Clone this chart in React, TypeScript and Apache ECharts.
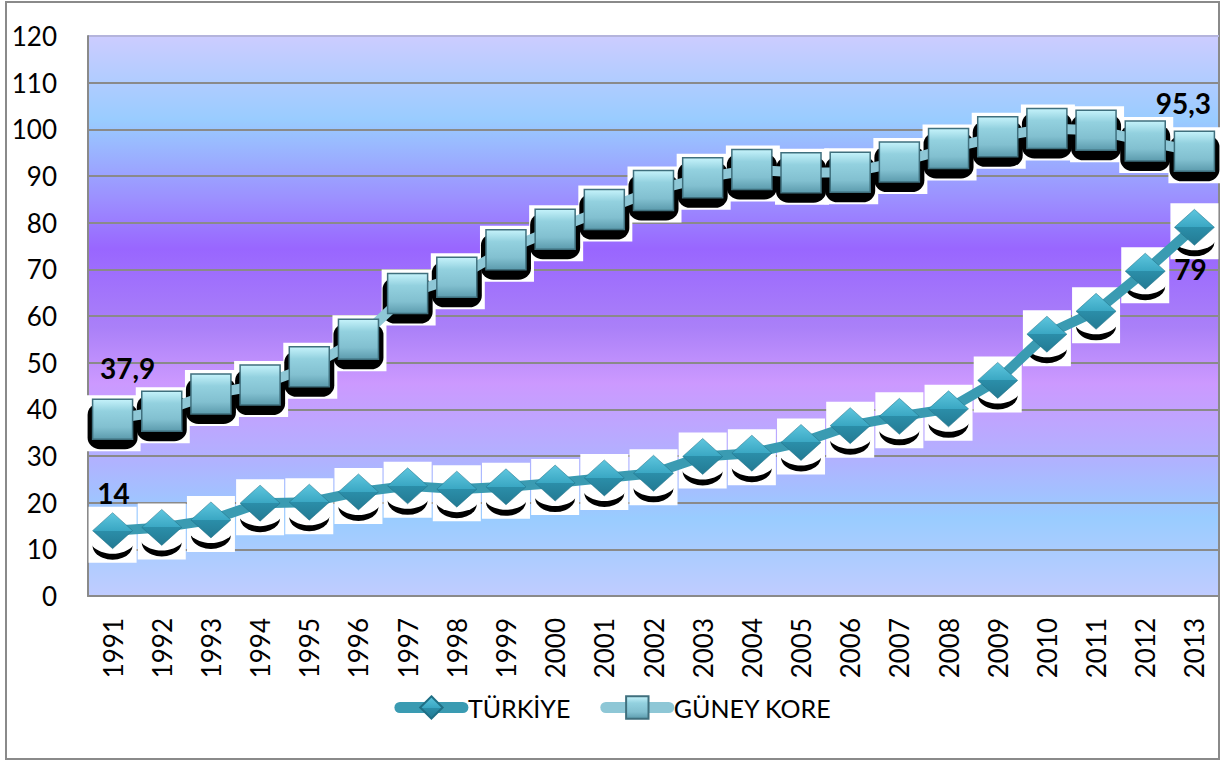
import React, { useEffect, useRef } from 'react';
import * as echarts from 'echarts';

const years = ['1991', '1992', '1993', '1994', '1995', '1996', '1997', '1998', '1999', '2000', '2001', '2002', '2003', '2004', '2005', '2006', '2007', '2008', '2009', '2010', '2011', '2012', '2013'];
const turkey = [14, 14.7, 16.3, 19.9, 20.1, 22.3, 23.6, 22.9, 23.4, 24.2, 25.3, 26.3, 29.9, 30.6, 32.9, 36.5, 38.5, 40.1, 46.2, 56.1, 61.0, 69.6, 79];
const korea = [37.9, 39.6, 43.3, 45.2, 49.1, 55.0, 64.8, 68.3, 74.2, 78.6, 82.8, 86.9, 89.6, 91.4, 90.7, 90.8, 93.0, 95.9, 98.4, 100.2, 99.8, 97.5, 95.3];
const seriesNames = ['TÜRKİYE', 'GÜNEY KORE'];
const yMin = 0;
const yMax = 120;
const yStep = 10;

const FONT = 'Lato';

export default function App() {
  const ref = useRef<HTMLDivElement>(null);
  useEffect(() => {
    const chart = echarts.init(ref.current!, null, { renderer: 'svg' });
    const last = years.length - 1;
    const fmt = (p: any) => String(p.value).replace('.', ',');
    const labelStyle = {
      fontFamily: FONT,
      fontWeight: 'bold' as const,
      fontSize: 28,
      color: '#000',
      formatter: fmt,
      position: 'inside' as const,
    };
    const withLabels = (arr: number[], first: number[], end: number[]) =>
      arr.map((v, i) => {
        if (i === 0) return { value: v, label: { show: true, ...labelStyle, offset: first } };
        if (i === last) return { value: v, label: { show: true, ...labelStyle, offset: end } };
        return { value: v };
      });

    const bg = new echarts.graphic.LinearGradient(0, 0, 0, 1, [
      { offset: 0, color: '#ccccff' },
      { offset: 0.15, color: '#99ccff' },
      { offset: 0.29, color: '#9c90ff' },
      { offset: 0.38, color: '#9966ff' },
      { offset: 0.52, color: '#aa80f8' },
      { offset: 0.62, color: '#cc99ff' },
      { offset: 0.75, color: '#b2b0ff' },
      { offset: 0.86, color: '#99ccff' },
      { offset: 1, color: '#c0ccff' },
    ]);

    const squareFill = new echarts.graphic.LinearGradient(0, 0, 0, 1, [
      { offset: 0, color: '#c6f3fb' },
      { offset: 0.3, color: '#93d1df' },
      { offset: 0.7, color: '#82c0d0' },
      { offset: 1, color: '#5c9bad' },
    ]);
    const diamondFill = new echarts.graphic.LinearGradient(0, 0, 0, 1, [
      { offset: 0, color: '#5ec6de' },
      { offset: 0.5, color: '#3aa7c3' },
      { offset: 0.5, color: '#2b8ea9' },
      { offset: 1, color: '#237a93' },
    ]);

    const splitColors = Array.from({ length: 13 }, (_, i) => (i === 12 ? '#b4b4dc' : '#8a8a8a'));

    const fx = (name: string, data: number[], symbol: string, size: number[], offset: number[], color: string, z: number) => ({
      type: 'scatter',
      name: name + '_fx' + z,
      data,
      symbol,
      symbolSize: size,
      symbolOffset: offset,
      itemStyle: { color, opacity: 1 },
      silent: true,
      z,
      emphasis: { disabled: true },
    });

    const option: any = {
      animation: false,
      backgroundColor: '#ffffff',
      textStyle: { fontFamily: FONT },
      graphic: [
        {
          type: 'rect',
          shape: { x: 6, y: 2, width: 1213, height: 757 },
          style: { fill: 'none', stroke: '#8a8a8a', lineWidth: 2 },
          silent: true,
        },
      ],
      grid: {
        left: 88,
        right: 7,
        top: 36,
        bottom: 165,
        show: true,
        backgroundColor: bg,
        borderWidth: 0,
      },
      legend: {
        data: seriesNames,
        left: 'center',
        top: 690,
        itemWidth: 63,
        itemHeight: 28,
        itemGap: 30,
        lineStyle: { width: 11, cap: 'round' },
        textStyle: { fontFamily: FONT, fontSize: 25, color: '#000' },
      },
      xAxis: {
        type: 'category',
        data: years,
        boundaryGap: true,
        axisLine: { show: true, lineStyle: { color: '#8a8a8a', width: 2 } },
        axisTick: { show: false },
        axisLabel: { rotate: 90, margin: 22, fontSize: 26, color: '#000', fontFamily: FONT, interval: 0 },
        splitLine: { show: false },
      },
      yAxis: {
        type: 'value',
        min: yMin,
        max: yMax,
        interval: yStep,
        axisLine: { show: true, lineStyle: { color: '#8a8a8a', width: 2 } },
        axisTick: { show: false },
        axisLabel: { margin: 31, fontSize: 26, color: '#000', fontFamily: FONT },
        splitLine: { show: true, lineStyle: { color: splitColors, width: 2 } },
      },
      series: [
        fx('tr', turkey, 'rect', [48, 56], [0, 4], '#ffffff', 1),
        fx('kr', korea, 'rect', [54, 56], [1, 4], '#ffffff', 1),
        fx('tr', turkey, 'circle', [40, 28], [0, 15], '#000000', 2),
        fx('kr', korea, 'roundRect', [50, 46], [0, 7], '#000000', 2),
        fx('tr', turkey, 'circle', [46, 30], [0, 8], '#ffffff', 3),
        {
          type: 'line',
          name: seriesNames[0],
          data: withLabels(turkey, [1, -38], [-4, 42]),
          symbol: 'diamond',
          symbolSize: [40, 36],
          showSymbol: true,
          showAllSymbol: true,
          lineStyle: { color: '#3a9bb2', width: 10, cap: 'butt' },
          itemStyle: { color: diamondFill, borderColor: '#1f6f85', borderWidth: 0.5 },
          z: 4,
          emphasis: { disabled: true },
        },
        {
          type: 'line',
          name: seriesNames[1],
          data: withLabels(korea, [15, -51], [-11, -48]),
          symbol: 'rect',
          symbolSize: [40, 40],
          showSymbol: true,
          showAllSymbol: true,
          lineStyle: { color: '#8ec7d6', width: 10, cap: 'butt' },
          itemStyle: { color: squareFill, borderColor: '#3f6f7d', borderWidth: 1.5 },
          z: 5,
          emphasis: { disabled: true },
        },
      ],
    };
    chart.setOption(option);
    return () => chart.dispose();
  }, []);
  return (
    <div
      ref={ref}
      style={{ position: 'fixed', left: 0, top: 0, width: 1226, height: 761, background: '#fff' }}
    />
  );
}
